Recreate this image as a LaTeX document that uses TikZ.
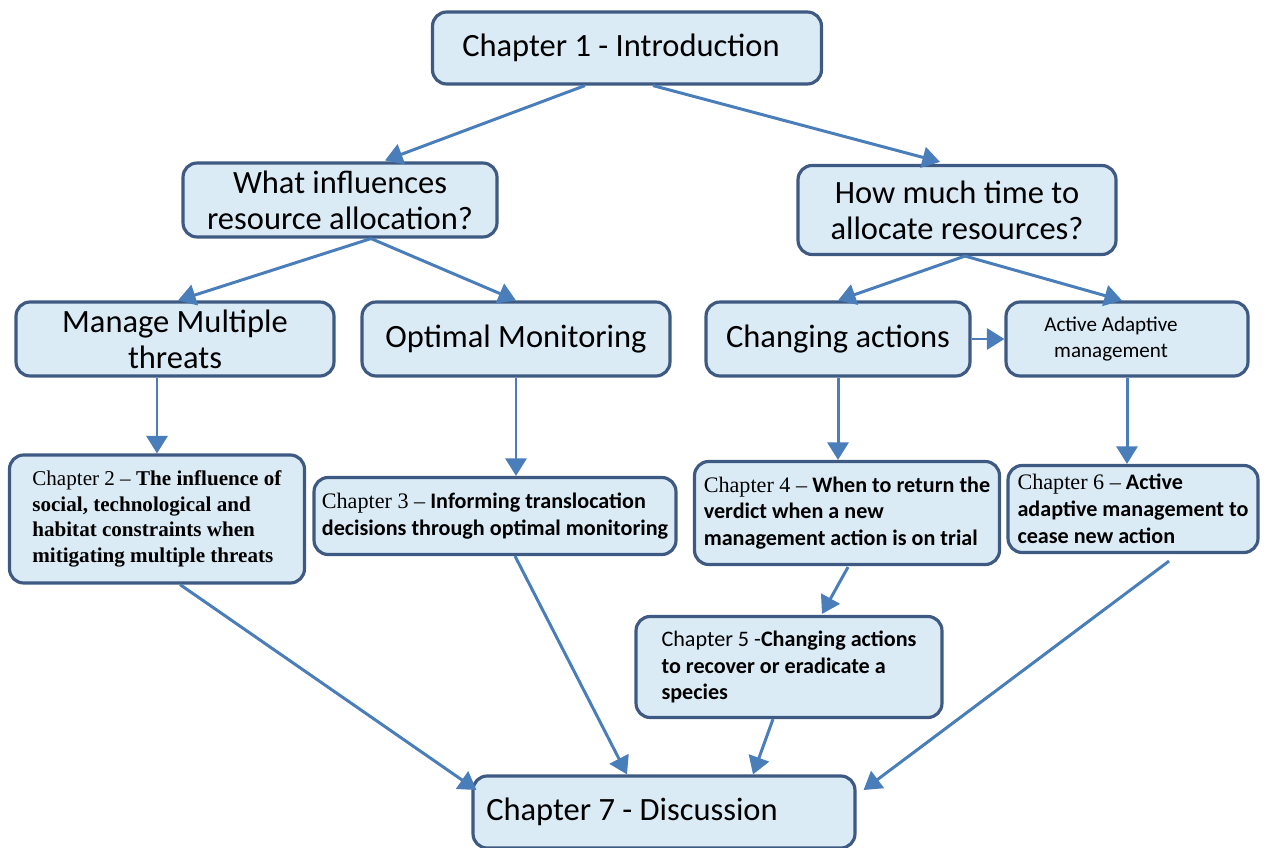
\documentclass[tikz,border=0pt]{standalone}
\usepackage{fontspec}
\setmainfont{Carlito}
\newfontfamily\tnr{Liberation Serif}
\usepackage{tikz}
\usetikzlibrary{positioning,calc,arrows.meta}
\definecolor{boxfill}{RGB}{219,235,245}
\definecolor{boxline}{RGB}{62,90,130}
\definecolor{linkblue}{RGB}{74,126,187}

\begin{document}
\begin{tikzpicture}[x=0.02cm, y=-0.02cm, >={Triangle[length=10pt,width=12pt]}, every node/.style={font=\fontsize{18.5}{20.5}\selectfont}]
\tikzstyle{block}=[rectangle, draw=boxline, fill=boxfill, line width=1.8pt, rounded corners=8pt, align=center, inner sep=3pt]
\tikzstyle{chapbox}=[block, align=left, font=\fontsize{12.6}{15.3}\selectfont]
\tikzstyle{link}=[->, draw=linkblue, fill=linkblue, line width=1.7pt]
\useasboundingbox (0,0) rectangle (1268,848);
% top and second level
\node[block, minimum width=7.78cm, minimum height=1.44cm] (intro) at (627,48) {Chapter 1 - Introduction\hspace*{0.24cm}};
\node[block, minimum width=6.28cm, minimum height=1.48cm] (what) at (340,200) {What influences\\resource allocation?};
\node[block, minimum width=6.36cm, minimum height=1.78cm] (how) at (957,210) {How much time to\\allocate resources?};
% third level
\node[block, minimum width=6.36cm, minimum height=1.48cm] (manage) at (175,339) {Manage Multiple\\threats};
\node[block, minimum width=6.16cm, minimum height=1.48cm] (optimal) at (516,339) {Optimal Monitoring};
\node[block, minimum width=5.28cm, minimum height=1.48cm] (changing) at (838,339) {Changing actions};
\node[block, minimum width=4.84cm, minimum height=1.48cm, font=\fontsize{12}{15}\selectfont] (active) at (1127,339) {Active Adaptive\hspace*{0.64cm}\\management\hspace*{0.64cm}};
% chapters
\node[chapbox, minimum width=5.9cm, minimum height=2.56cm, font=\tnr\fontsize{12}{14.6}\selectfont] (ch2) at (157,519) {Chapter 2 – \textbf{The influence of}\\\textbf{social, technological and}\\\textbf{habitat constraints when}\\\textbf{mitigating multiple threats}};
\node[chapbox, minimum width=7.24cm, minimum height=1.54cm] (ch3) at (495,516) {{\tnr Chapter 3 –} \textbf{Informing translocation}\\\textbf{decisions through optimal monitoring}};
\node[chapbox, minimum width=6.1cm, minimum height=2.06cm] (ch4) at (847,513) {{\tnr Chapter 4 –} \textbf{When to return the}\\\textbf{verdict when a new}\\\textbf{management action is on trial}};
\node[chapbox, minimum width=5.0cm, minimum height=1.74cm] (ch6) at (1133,509) {{\tnr Chapter 6 –} \textbf{Active}\\\textbf{adaptive management to}\\\textbf{cease new action}};
\node[chapbox, minimum width=6.12cm, minimum height=2.02cm] (ch5) at (789,667) {Chapter 5 -\textbf{Changing actions}\\\textbf{to recover or eradicate a}\\\textbf{species}};
\node[block, minimum width=7.64cm, minimum height=1.44cm] (ch7) at (664,812) {Chapter 7 - Discussion\hspace*{1.28cm}};
% links
\draw[link] ($(intro.south)+(-42,0)$) -- ($(what.north)+(45,-1)$);
\draw[link] ($(intro.south)+(26,0)$) -- ($(how.north)+(-17,-2)$);
\draw[link] ($(what.south)+(31,0)$) -- ($(manage.north)+(3,0)$);
\draw[link] ($(what.south)+(31,0)$) -- (optimal.north);
\draw[link] ($(how.south)+(8,0)$) -- (changing.north);
\draw[link] ($(how.south)+(8,0)$) -- ($(active.north)+(-5,0)$);
\draw[link] (changing.east) -- (active.west);
\draw[link] ($(manage.south)+(-18,0)$) -- (ch2.north);
\draw[link] (optimal.south) -- (optimal.south |- ch3.north);
\draw[link] (changing.south) -- (changing.south |- ch4.north);
\draw[link] (active.south) -- (active.south |- ch6.north);
\draw[link] ($(ch4.south)+(1,1)$) -- ($(ch5.north)+(33,-1)$);
\draw[link] ($(ch2.south)+(23,0)$) -- ($(ch7.west)+(5,-22)$);
\draw[link] ($(ch3.south)+(20,0)$) -- ($(ch7.north)+(-37,0)$);
\draw[link] ($(ch5.south)+(-16,0)$) -- ($(ch7.north)+(89,0)$);
\draw[link] ($(ch6.south)+(36,7)$) -- ($(ch7.east)+(7,-22)$);
\end{tikzpicture}
\end{document}
